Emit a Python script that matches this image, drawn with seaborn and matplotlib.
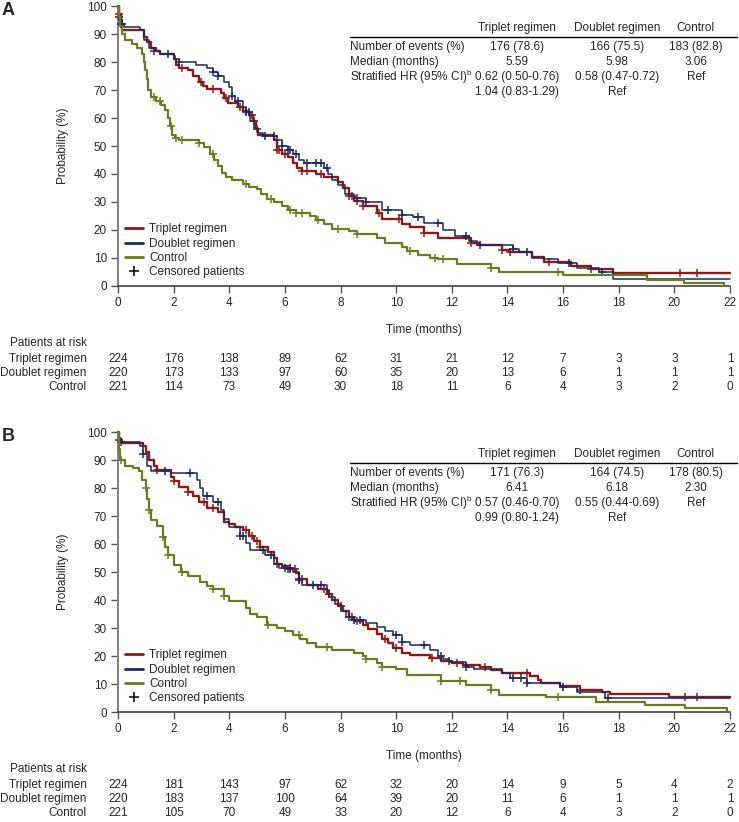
import numpy as np
import pandas as pd
import seaborn as sns
import matplotlib.pyplot as plt
from matplotlib.lines import Line2D

sns.set_style("ticks")
plt.rcParams['font.family'] = ['Liberation Sans', 'DejaVu Sans']
plt.rcParams['mathtext.fontset'] = 'custom'
plt.rcParams['mathtext.rm'] = 'Liberation Sans'

arms = ["Triplet regimen", "Doublet regimen", "Control"]
colors = ["#8b1a1a", "#1c2a5c", "#6b7b1f"]
widths = [1.7, 1.1, 1.6]
risk_times = list(range(0, 23, 2))

# ---- panel A: step times / survival (%) / censor times
a_trip_t = [0.05, 0.1, 0.15, 0.95, 1.05, 1.2, 1.35, 1.5, 2.0, 2.1, 2.2, 2.5, 2.7, 2.9, 3.05, 3.2, 3.7, 3.8, 3.95,
            4.3, 4.5, 4.7, 4.85, 4.95, 5.05, 5.6, 5.7, 5.9, 6.1, 6.3, 6.45, 6.6, 7.1, 7.4, 7.9, 8.1, 8.3, 8.5, 8.8,
            9.3, 9.5, 10.2, 10.5, 11.0, 11.5, 12.7, 13.0, 13.8, 14.1, 14.9, 15.3, 16.3, 17.0, 17.8]
a_trip_s = [97, 95, 91.5, 89, 87, 85, 84, 83, 81, 79, 78, 77, 75, 73, 71.5, 70.5, 69, 67, 65.5,
            64, 62.5, 61, 59, 56, 54, 52, 48.5, 47, 46, 44, 42, 41, 40, 39, 37, 35, 32, 30.5, 28.5,
            26, 24, 22, 21, 19, 17.3, 15.5, 14.5, 13, 12, 10.5, 8.6, 7, 6, 4.5]
a_trip_c = [0.05, 2.3, 3.0, 3.4, 3.9, 4.4, 4.6, 4.8, 4.9, 5.0, 5.7, 5.8, 6.0, 6.6, 6.8, 7.3, 8.3, 8.4, 8.6,
            8.8, 9.4, 10.1, 11.0, 12.7, 13.8, 14.1, 15.5, 17.0, 20.2, 20.8]

a_doub_t = [0.05, 0.1, 0.2, 0.8, 0.95, 1.1, 1.3, 1.5, 2.0, 2.05, 2.2, 2.8, 3.2, 3.4, 3.6, 3.8, 4.0, 4.1, 4.2,
            4.5, 4.6, 4.75, 4.9, 5.05, 5.2, 5.7, 5.9, 6.1, 6.3, 6.5, 6.7, 7.4, 7.55, 7.7, 7.9, 8.15, 8.5, 8.9,
            9.5, 10.2, 10.6, 11.0, 11.7, 12.1, 12.6, 12.9, 14.2, 14.4, 14.9, 15.3, 15.8, 16.5, 17.3, 17.8]
a_doub_s = [96, 93.5, 92.5, 91.5, 88, 85, 84, 83, 82, 81, 80, 79, 78, 76.5, 75, 73, 71, 68, 66,
            64, 62, 59, 56.5, 54.5, 53.5, 52, 50, 48.5, 47, 45, 44, 42, 40, 38, 36, 33, 31.5, 30,
            27, 25.5, 24.5, 22.5, 20, 18, 16, 14.6, 13.2, 12.1, 10, 9.6, 8.2, 6.5, 5, 2.5]
a_doub_c = [0.05, 0.1, 0.15, 1.3, 1.8, 2.2, 3.4, 3.6, 4.1, 4.3, 4.6, 4.7, 5.3, 5.6, 5.9, 6.1, 6.2, 6.4,
            6.8, 7.1, 7.3, 7.5, 8.6, 8.9, 9.7, 10.2, 10.8, 11.5, 12.5, 13.0, 14.2, 14.7, 16.2, 17.4]

a_ctrl_t = [0.03, 0.07, 0.15, 0.25, 0.5, 0.7, 0.85, 0.92, 0.98, 1.03, 1.08, 1.2, 1.35, 1.55, 1.7, 1.8, 1.88,
            1.95, 2.05, 2.2, 2.9, 3.1, 3.3, 3.45, 3.6, 3.75, 3.9, 4.1, 4.5, 4.7, 5.0, 5.15, 5.35, 5.6, 5.9,
            6.1, 6.4, 6.9, 7.1, 7.4, 7.7, 8.3, 8.6, 9.3, 9.6, 10.2, 10.4, 10.8, 11.2, 11.5, 12.2, 13.4,
            13.7, 16.0, 19.0, 20.35, 21.8]
a_ctrl_s = [96, 93, 90, 88, 86.5, 85, 83, 80, 77, 74, 70, 67.5, 66, 64.5, 63, 60, 57,
            54, 53, 52, 51, 49.5, 47, 45, 43, 40.5, 39, 38, 36.5, 35.5, 34.5, 33, 31, 30, 28.5,
            27, 26, 25, 23.5, 22, 20.5, 19.5, 18.5, 17, 15.5, 14, 12.5, 11, 10, 9.5, 8, 6.5,
            5, 4, 2, 1, 0]
a_ctrl_c = [1.3, 1.5, 1.9, 2.1, 2.3, 2.9, 3.4, 4.6, 5.5, 6.2, 6.4, 6.6, 7.2, 7.9, 8.6, 10.5, 11.4, 11.7,
            13.4, 15.8]

# ---- panel B
b_trip_t = [0.05, 0.15, 0.9, 1.0, 1.1, 1.3, 1.4, 1.9, 2.0, 2.2, 2.5, 2.7, 2.9, 3.2, 3.6, 3.8, 4.0, 4.2, 4.5,
            4.7, 4.9, 5.1, 5.4, 5.6, 5.7, 5.9, 6.1, 6.4, 6.5, 6.8, 7.2, 7.5, 7.7, 7.9, 8.1, 8.3, 8.5, 8.8,
            9.0, 9.3, 9.5, 9.7, 9.9, 10.2, 10.5, 11.2, 11.6, 12.0, 12.4, 13.0, 13.4, 13.8, 14.8, 15.1, 15.2,
            15.9, 16.6, 17.4, 17.7, 19.8]
b_trip_s = [97, 96, 95, 93, 90, 88, 86.5, 84, 82.5, 80.5, 78.5, 77, 75, 73, 71.5, 68, 67, 66, 65,
            63, 61, 59, 57, 55, 53, 52, 51, 49.5, 47.5, 45.5, 44, 42, 40, 38, 36, 34, 32.5, 31,
            29.5, 28, 26, 24.5, 23, 21, 20.3, 19.2, 18.2, 17.5, 16.8, 16, 15, 14, 12.9, 11.4, 10.3,
            9.3, 7.9, 7.3, 6.4, 5.2]
b_trip_c = [0.05, 1.4, 2.0, 2.5, 3.1, 3.4, 4.6, 4.8, 5.0, 5.1, 5.7, 6.1, 6.2, 6.35, 6.5, 6.6, 7.4, 7.6,
            8.0, 8.4, 8.6, 9.6, 10.0, 11.3, 11.9, 12.2, 13.2, 14.7, 16.6, 20.4, 20.8]

b_doub_t = [0.05, 0.1, 0.8, 0.9, 1.05, 1.2, 1.9, 2.85, 2.95, 3.05, 3.4, 3.7, 3.8, 4.0, 4.4, 4.6, 4.75, 5.3,
            5.6, 5.8, 6.3, 6.5, 6.6, 7.5, 7.6, 7.8, 8.0, 8.2, 8.4, 8.9, 9.3, 9.6, 9.9, 10.2, 10.5, 11.2,
            11.5, 11.7, 11.9, 12.5, 12.8, 13.8, 14.1, 14.7, 15.9, 16.5, 17.5]
b_doub_s = [98, 96.5, 95, 92, 88, 86, 85.3, 83, 80, 77, 75, 72, 69, 66, 63, 60.5, 58, 56,
            53, 51.5, 50, 47, 45.4, 43.5, 41, 38.5, 36, 34, 33, 31.7, 30.4, 29, 27.5, 25, 24, 22,
            20, 18.8, 18, 16, 15.3, 13.9, 12.1, 10.3, 8.9, 7.3, 5]
b_doub_c = [0.1, 0.9, 1.7, 2.6, 3.2, 3.6, 4.4, 4.5, 5.2, 5.5, 6.0, 6.2, 6.5, 7.0, 7.3, 8.3, 8.5, 8.7,
            10.0, 10.2, 11.0, 11.6, 12.5, 14.2, 14.5, 14.7, 16.0, 17.6]

b_ctrl_t = [0.03, 0.07, 0.25, 0.55, 0.75, 0.85, 1.0, 1.05, 1.1, 1.2, 1.4, 1.6, 1.7, 1.8, 2.0, 2.25, 2.5,
            2.95, 3.2, 3.4, 3.8, 4.0, 4.6, 4.75, 5.0, 5.35, 5.7, 6.0, 6.3, 6.55, 6.8, 7.1, 7.7, 8.5, 8.8,
            8.9, 9.3, 9.5, 10.0, 10.4, 11.6, 12.5, 13.4, 13.7, 15.4, 17.2, 18.95, 20.4, 21.9]
b_ctrl_s = [94, 90, 88, 87, 86, 83, 80, 76, 72, 68.5, 66.5, 62.5, 59, 56, 52.5, 50, 48.5,
            46.5, 45, 43.8, 41.5, 39.5, 37, 35, 33.8, 31, 30, 29, 27.5, 26, 24.6, 23.3, 22.2, 21, 20,
            18.8, 17.5, 16.2, 15.2, 13.3, 10.9, 9.6, 8, 6, 5.2, 3.7, 2.5, 1.3, 0]
b_ctrl_c = [0.1, 1.0, 1.1, 1.6, 1.8, 2.3, 3.4, 3.8, 5.4, 6.5, 7.5, 8.9, 9.5, 11.6, 12.3, 13.4, 15.8]

# ---- risk tables
a_risk = [[224, 176, 138, 89, 62, 31, 21, 12, 7, 3, 3, 1],
          [220, 173, 133, 97, 60, 35, 20, 13, 6, 1, 1, 1],
          [221, 114, 73, 49, 30, 18, 11, 6, 4, 3, 2, 0]]
b_risk = [[224, 181, 143, 97, 62, 32, 20, 14, 9, 5, 4, 2],
          [220, 183, 137, 100, 64, 39, 20, 11, 6, 1, 1, 1],
          [221, 105, 70, 49, 33, 20, 12, 6, 4, 3, 2, 0]]

# ---- summary tables
row_labels = ["Number of events (%)", "Median (months)", r"Stratified HR (95% CI)$^{\mathrm{b}}$", ""]
a_table = [["176 (78.6)", "166 (75.5)", "183 (82.8)"],
           ["5.59", "5.98", "3.06"],
           ["0.62 (0.50-0.76)", "0.58 (0.47-0.72)", "Ref"],
           ["1.04 (0.83-1.29)", "Ref", ""]]
b_table = [["171 (76.3)", "164 (74.5)", "178 (80.5)"],
           ["6.41", "6.18", "2.30"],
           ["0.57 (0.46-0.70)", "0.55 (0.44-0.69)", "Ref"],
           ["0.99 (0.80-1.24)", "Ref", ""]]

FS = 8.5


def curve(t, s, end):
    tt = [0.0] + list(t)
    ss = [100.0] + list(s)
    if tt[-1] < end:
        tt.append(end)
        ss.append(ss[-1])
    return np.array(tt), np.array(ss)


def draw_panel(ax, letter, curves, risk, table):
    # draw control first so triplet sits on top
    for i in [2, 1, 0]:
        t, s, c = curves[i]
        end = 22 if s[-1] > 0 else t[-1]
        tt, ss = curve(t, s, end)
        df = pd.DataFrame({"time": tt, "surv": ss})
        sns.lineplot(data=df, x="time", y="surv", estimator=None, sort=False,
                     drawstyle="steps-post", color=colors[i], lw=widths[i],
                     ax=ax, clip_on=False, zorder=3 + i)
        idx = np.searchsorted(tt, np.array(c), side="right") - 1
        cens = pd.DataFrame({"time": c, "surv": ss[idx]})
        sns.scatterplot(data=cens, x="time", y="surv", marker="+", s=36,
                        color=colors[i], linewidth=1.1, ax=ax, clip_on=False,
                        zorder=3 + i)

    ax.set_xlim(0, 22)
    ax.set_ylim(0, 100)
    ax.set_xticks(risk_times)
    ax.set_yticks(range(0, 101, 10))
    sns.despine(ax=ax)
    ax.spines["left"].set_color("#808080")
    ax.spines["left"].set_linewidth(1.4)
    ax.spines["bottom"].set_color("#333333")
    ax.spines["bottom"].set_linewidth(1.1)
    ax.tick_params(direction="out", length=5, width=1, color="#555555",
                   labelsize=FS, pad=3)
    ax.set_xlabel("Time (months)", fontsize=FS, labelpad=11)
    ax.set_ylabel("Probability (%)", fontsize=FS, labelpad=13)

    handles = [Line2D([], [], color=colors[i], lw=2) for i in range(3)]
    handles.append(Line2D([], [], color="black", marker="+", ls="none",
                          markersize=7, mew=1.1))
    ax.legend(handles, arms + ["Censored patients"], loc="lower left",
              bbox_to_anchor=(0.012, 0.027), frameon=False, fontsize=FS,
              handlelength=1.5, handletextpad=0.5, labelspacing=0.2,
              borderpad=0, borderaxespad=0)

    ax.text(-0.19, 0.985, letter, transform=ax.transAxes, fontsize=13,
            fontweight="bold", ha="left", va="center")

    # patients at risk
    xt = ax.get_xaxis_transform()
    ax.text(-0.051, -0.205, "Patients at risk", transform=ax.transAxes,
            fontsize=FS, ha="right", va="center")
    for r in range(3):
        y = -0.259 - r * 0.0505
        ax.text(-0.051, y, arms[r], transform=ax.transAxes, fontsize=FS,
                ha="right", va="center")
        for tm, n in zip(risk_times, risk[r]):
            ax.text(tm, y, str(n), transform=xt, fontsize=FS,
                    ha="center", va="center")

    # summary table
    col_x = [0.652, 0.815, 0.944]
    for j in range(3):
        ax.text(col_x[j], 0.921, arms[j], transform=ax.transAxes,
                fontsize=FS, ha="center", va="center")
    ax.add_line(Line2D([0.379, 1.011], [0.889, 0.889], transform=ax.transAxes,
                       color="black", lw=1.0, clip_on=False))
    for r in range(4):
        y = 0.853 - r * 0.0535
        ax.text(0.379, y, row_labels[r], transform=ax.transAxes,
                fontsize=FS, ha="left", va="center")
        for j in range(3):
            ax.text(col_x[j], y, table[r][j], transform=ax.transAxes,
                    fontsize=FS, ha="center", va="center")


fig = plt.figure(figsize=(7.39, 8.22), dpi=100)
ax_a = fig.add_axes([118 / 739, 1 - 286 / 822, 612 / 739, 280 / 822])
ax_b = fig.add_axes([118 / 739, 1 - 712 / 822, 612 / 739, 280 / 822])

draw_panel(ax_a, "A",
           [(a_trip_t, a_trip_s, a_trip_c), (a_doub_t, a_doub_s, a_doub_c),
            (a_ctrl_t, a_ctrl_s, a_ctrl_c)], a_risk, a_table)
draw_panel(ax_b, "B",
           [(b_trip_t, b_trip_s, b_trip_c), (b_doub_t, b_doub_s, b_doub_c),
            (b_ctrl_t, b_ctrl_s, b_ctrl_c)], b_risk, b_table)

fig.savefig("out.png", dpi=100)
